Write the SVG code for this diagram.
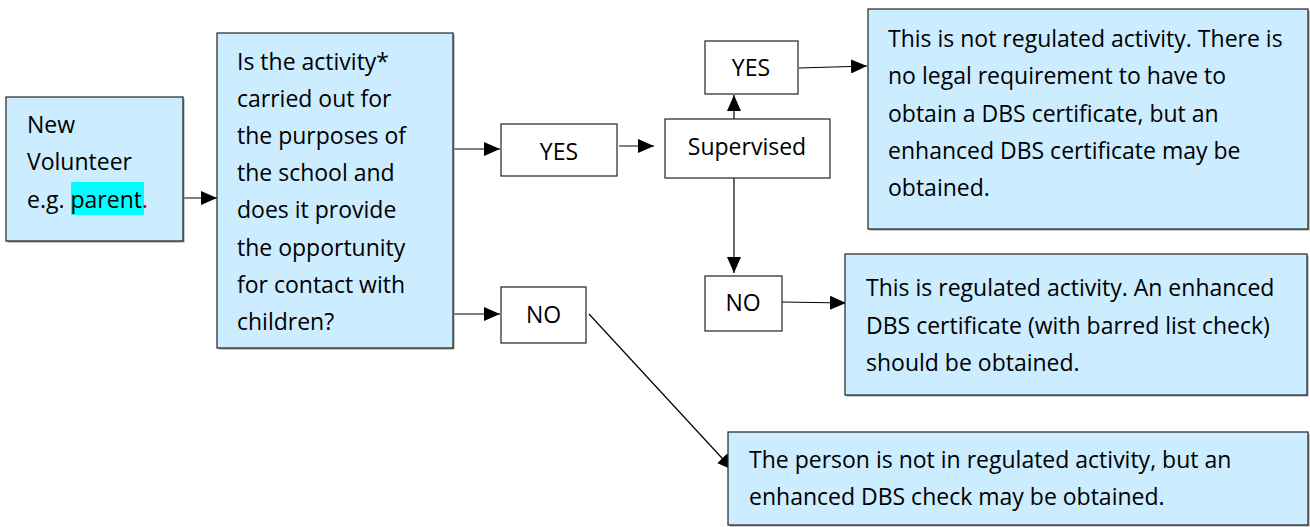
<svg xmlns="http://www.w3.org/2000/svg" width="1310" height="527" viewBox="0 0 1310 527">
<style>
.b{fill:#CCECFF;stroke:#222;stroke-width:1.2}
.w{fill:#fff;stroke:#222;stroke-width:1.2}
.sh{fill:#9a9a9a}
text{font-family:"Open Sans","Noto Sans",sans-serif;font-size:23px;fill:#000}
.c{text-anchor:middle}
.ln{stroke:#000;stroke-width:1.2;fill:none;marker-end:url(#ah)}
</style>
<defs>
<marker id="ah" markerUnits="userSpaceOnUse" markerWidth="16" markerHeight="14" refX="16" refY="7" orient="auto">
<path d="M0,0 L16,7 L0,14 Z" fill="#000"/>
</marker>
</defs>
<g id="connectors">
<line class="ln" x1="183" y1="198" x2="217" y2="198"/>
<line class="ln" x1="453" y1="149" x2="500" y2="149"/>
<line class="ln" x1="453" y1="314" x2="500" y2="314"/>
<line class="ln" x1="619" y1="146" x2="654" y2="146"/>
<line class="ln" x1="734" y1="119" x2="734" y2="95"/>
<line class="ln" x1="734" y1="178" x2="734" y2="273"/>
<line class="ln" x1="799" y1="68" x2="867" y2="66"/>
<line class="ln" x1="782" y1="302" x2="846" y2="303"/>
<line class="ln" x1="589" y1="314" x2="733" y2="470"/>
</g>
<g id="new-volunteer">
<rect class="sh" x="7.5" y="98.5" width="177" height="144"/>
<rect class="b" x="6" y="97" width="177" height="144"/>
<rect x="71" y="182" width="73" height="33" fill="#00FFFF"/>
<text x="27" y="133">New</text>
<text x="27" y="170">Volunteer</text>
<text x="27" y="208">e.g. <tspan>parent</tspan><tspan fill="#e00000">.</tspan></text>
</g>
<g id="question">
<rect class="sh" x="218.5" y="34.5" width="236" height="315"/>
<rect class="b" x="217" y="33" width="236" height="315"/>
<text x="237" y="70">Is the activity*</text>
<text x="237" y="107">carried out for</text>
<text x="237" y="144">the purposes of</text>
<text x="237" y="181">the school and</text>
<text x="237" y="218">does it provide</text>
<text x="237" y="256">the opportunity</text>
<text x="237" y="293">for contact with</text>
<text x="237" y="330">children?</text>
</g>
<g id="yes1">
<rect class="w" x="501" y="124" width="116" height="52"/>
<text class="c" x="559" y="160">YES</text>
</g>
<g id="no1">
<rect class="w" x="501" y="287" width="85" height="56"/>
<text class="c" x="543.5" y="323">NO</text>
</g>
<g id="supervised">
<rect class="w" x="665" y="119" width="165" height="59"/>
<text class="c" x="747" y="155">Supervised</text>
</g>
<g id="yes2">
<rect class="w" x="705" y="41" width="93" height="53"/>
<text class="c" x="751" y="76">YES</text>
</g>
<g id="no2">
<rect class="w" x="705" y="276" width="77" height="55"/>
<text class="c" x="743" y="311">NO</text>
</g>
<g id="not-regulated">
<rect class="sh" x="869.5" y="10.5" width="440" height="220"/>
<rect class="b" x="868" y="9" width="440" height="220"/>
<text x="888" y="47">This is not regulated activity. There is</text>
<text x="888" y="84">no legal requirement to have to</text>
<text x="888" y="122">obtain a DBS certificate, but an</text>
<text x="888" y="159">enhanced DBS certificate may be</text>
<text x="888" y="196">obtained.</text>
</g>
<g id="regulated">
<rect class="sh" x="846.5" y="255.5" width="462" height="141"/>
<rect class="b" x="845" y="254" width="462" height="141"/>
<text x="866" y="296">This is regulated activity. An enhanced</text>
<text x="866" y="334">DBS certificate (with barred list check)</text>
<text x="866" y="371">should be obtained.</text>
</g>
<g id="not-in-regulated">
<rect class="sh" x="729.5" y="433.5" width="580" height="93"/>
<rect class="b" x="728" y="432" width="580" height="93"/>
<text x="749" y="468">The person is not in regulated activity, but an</text>
<text x="749" y="505">enhanced DBS check may be obtained.</text>
</g>
</svg>
